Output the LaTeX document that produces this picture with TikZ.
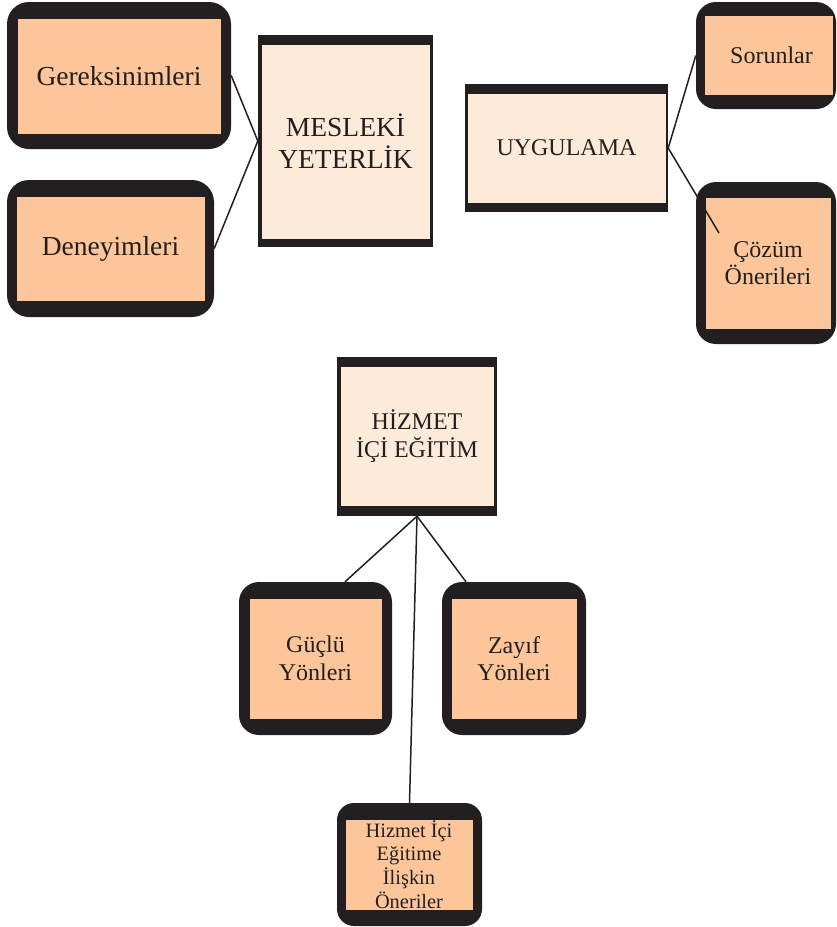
\documentclass[tikz,border=0pt]{standalone}
\usepackage{fontspec}
\setmainfont{Liberation Serif}
\usetikzlibrary{calc}
\definecolor{ink}{HTML}{231F20}
\definecolor{peach}{HTML}{FDC69A}
\definecolor{cream}{HTML}{FDEBDA}
\begin{document}
\begin{tikzpicture}[x=1pt,y=-1pt,
  roundouter/.style={draw=none, fill=ink, rounded corners=20pt, inner sep=0pt},
  squareouter/.style={draw=none, fill=ink, inner sep=0pt},
  innerpeach/.style={fill=peach, draw=ink, line width=1pt, inner sep=0pt, align=center, text=ink},
  innercream/.style={fill=cream, draw=ink, line width=1pt, inner sep=0pt, align=center, text=ink},
  bigtext/.style={font=\fontsize{27.5}{32}\selectfont},
  midtext/.style={font=\fontsize{24}{27.5}\selectfont},
  smalltext/.style={font=\fontsize{20.4}{23.7}\selectfont},
  link/.style={draw=ink, line width=1.5pt}]
\useasboundingbox (0,0) rectangle (836,927);

% Gereksinimleri
\node[roundouter, rounded corners=22pt, minimum width=224pt, minimum height=147pt] (g) at (119,75.5) {};
\node[innerpeach, bigtext, minimum width=204pt, minimum height=116pt] (g-in) at (119,76) {Gereksinimleri};
% Deneyimleri
\node[roundouter, rounded corners=22pt, minimum width=207pt, minimum height=137pt] (d) at (110.5,248.5) {};
\node[innerpeach, bigtext, minimum width=189pt, minimum height=105pt] (d-in) at (110.5,248.5) {Deneyimleri};
% MESLEKI YETERLIK
\node[squareouter, minimum width=175pt, minimum height=212pt] (m) at (345.5,141) {};
\node[innercream, bigtext, minimum width=169pt, minimum height=195pt] (m-in) at (345.5,141.5) {MESLEKİ\\YETERLİK};
% UYGULAMA
\node[squareouter, minimum width=203pt, minimum height=128pt] (u) at (566.5,148) {};
\node[innercream, midtext, minimum width=199pt, minimum height=110pt] (u-in) at (566.5,148) {UYGULAMA};
% Sorunlar
\node[roundouter, minimum width=140pt, minimum height=107pt] (s) at (766,55.5) {};
\node[innerpeach, midtext, minimum width=129pt, minimum height=80pt] (s-in) at (768.5,55) {\hspace*{6pt}Sorunlar};
% Cozum Onerileri
\node[roundouter, minimum width=140pt, minimum height=162pt] (c) at (766,263) {};
\node[innerpeach, midtext, minimum width=126pt, minimum height=132pt] (c-in) at (768,263) {Çözüm\\Önerileri};
% HIZMET ICI EGITIM
\node[squareouter, minimum width=160pt, minimum height=159pt] (h) at (417,436.5) {};
\node[innercream, midtext, minimum width=154pt, minimum height=140pt] (h-in) at (417,436) {HİZMET\\İÇİ EĞİTİM};
% Guclu Yonleri
\node[roundouter, minimum width=153pt, minimum height=153pt] (gu) at (315.5,658.5) {};
\node[innerpeach, midtext, minimum width=133pt, minimum height=121pt] (gu-in) at (315.5,658.5) {Güçlü\\Yönleri};
% Zayif Yonleri
\node[roundouter, minimum width=144pt, minimum height=153pt] (z) at (514,658.5) {};
\node[innerpeach, midtext, minimum width=126pt, minimum height=121pt] (z-in) at (514,658.5) {Zayıf\\Yönleri};
% Hizmet Ici Egitime Iliskin Oneriler
\node[roundouter, rounded corners=17pt, minimum width=145pt, minimum height=123pt] (b) at (409.5,864.5) {};
\node[innerpeach, smalltext, minimum width=128pt, minimum height=91pt] (b-in) at (409,864.5) {Hizmet İçi\\Eğitime\\İlişkin\\Öneriler};

\coordinate (c-end) at (719,233);

% connectors
\draw[link] (g.east) -- (m.west);
\draw[link] (d.east) -- (m.west);
\draw[link] (u.east) -- (s.west);
\draw[link] (u.east) -- (c-end);
\draw[link] (h.south) -- ([xshift=29.5pt]gu.north);
\draw[link] (h.south) -- ([xshift=-48pt]z.north);
\draw[link] (h.south) -- (b.north);
\end{tikzpicture}
\end{document}
